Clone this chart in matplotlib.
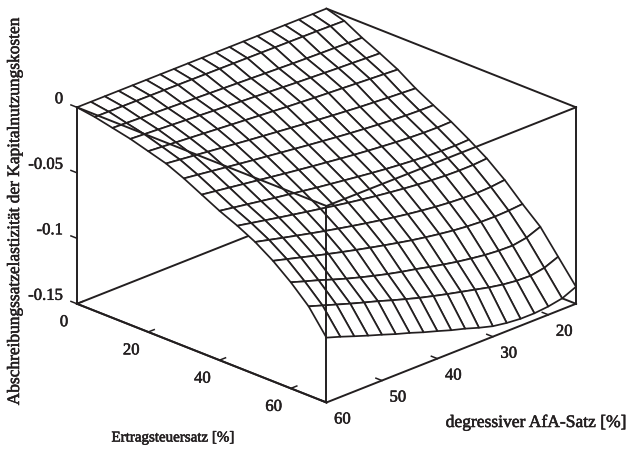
#coding: utf8

import numpy as np
import matplotlib
matplotlib.use('Agg')
from matplotlib import pyplot as plt
from matplotlib import patheffects

plt.rcParams['font.family'] = ['Liberation Serif', 'DejaVu Serif']

# Axes of the picture
tax_rate = [0, 5, 10, 15, 20, 25, 30, 35, 40, 45, 50, 55, 60, 65, 70]
afa_rate = [60, 57.5, 55, 52.5, 50, 47.5, 45, 42.5, 40, 37.5, 35, 32.5, 30,
            27.5, 25, 22.5, 20, 17.5, 15]

elasticity = [
    [0] * 19,
    [.0020, .0021, .0022, .0023, .0024, .0025, .0026, .0027, .0028, .0029, .0030, .0031, .0032, .0033, .0034, .0035, .0036, .0038, .0040],
    [.0050, .0054, .0058, .0062, .0066, .0070, .0074, .0078, .0082, .0086, .0090, .0094, .0098, .0102, .0105, .0108, .0110, .0113, .0115],
    [.0080, .0086, .0092, .0098, .0104, .0110, .0116, .0122, .0128, .0134, .0140, .0146, .0152, .0157, .0162, .0167, .0171, .0176, .0180],
    [.0120, .0128, .0136, .0144, .0152, .0160, .0168, .0176, .0184, .0192, .0200, .0207, .0214, .0220, .0226, .0232, .0238, .0244, .0250],
    [.0160, .0172, .0184, .0196, .0208, .0220, .0232, .0243, .0254, .0265, .0276, .0286, .0296, .0305, .0314, .0321, .0328, .0334, .0340],
    [.0220, .0234, .0248, .0262, .0276, .0290, .0303, .0316, .0329, .0342, .0354, .0366, .0377, .0387, .0396, .0404, .0410, .0414, .0415],
    [.0290, .0305, .0320, .0335, .0350, .0365, .0380, .0394, .0408, .0421, .0434, .0446, .0457, .0467, .0476, .0483, .0488, .0490, .0487],
    [.0360, .0377, .0394, .0411, .0428, .0444, .0460, .0476, .0490, .0504, .0518, .0531, .0543, .0553, .0562, .0569, .0573, .0574, .0570],
    [.0420, .0441, .0462, .0483, .0503, .0523, .0542, .0561, .0579, .0596, .0612, .0626, .0639, .0650, .0659, .0666, .0669, .0668, .0660],
    [.0490, .0516, .0542, .0567, .0592, .0616, .0639, .0661, .0682, .0702, .0721, .0738, .0753, .0766, .0776, .0783, .0786, .0782, .0770],
    [.0580, .0609, .0638, .0667, .0695, .0722, .0748, .0773, .0797, .0820, .0842, .0861, .0878, .0893, .0904, .0911, .0913, .0909, .0900],
    [.0690, .0725, .0758, .0795, .0830, .0862, .0892, .0920, .0945, .0967, .0992, .1015, .1036, .1053, .1068, .1077, .1080, .1062, .1020],
    [.0820, .0855, .0890, .0925, .0958, .0990, .1025, .1058, .1090, .1118, .1145, .1170, .1195, .1220, .1240, .1253, .1257, .1238, .1195],
    [.1005, .1040, .1078, .1115, .1150, .1187, .1220, .1257, .1290, .1325, .1355, .1390, .1420, .1437, .1447, .1447, .1437, .1417, .1370],
]

tax_ticks = [0, 20, 40, 60]
afa_ticks = [20, 30, 40, 50, 60]
z_ticks = [0, -0.05, -0.1, -0.15]
z_ticklabels = ['0', '-0.05', '-0.1', '-0.15']

ink = '#231f20'
heavy = [patheffects.withStroke(linewidth=0.4, foreground=ink)]
x0, x1 = tax_rate[0], tax_rate[-1]
y0, y1 = afa_rate[0], afa_rate[-1]
z0, z1 = z_ticks[-1], z_ticks[0]

fig = plt.figure(figsize=(6.28, 4.5), dpi=100)
# Axes bigger than the figure so the 3d clip box doesn't cut the mesh
ax = fig.add_axes([(317 - 350) / 628, (450 - 215 - 350) / 450, 700 / 628, 700 / 450],
    projection='3d', proj_type='ortho', computed_zorder=False)
ax.patch.set_alpha(0)
ax.view_init(elev=23.3, azim=-45)
ax.set_box_aspect((354, 354, 214.6), zoom=0.753)
ax.set_xlim(x0, x1)
ax.set_ylim(y0, y1)
ax.set_zlim(z0, z1)
ax.grid(False)
for axis in (ax.xaxis, ax.yaxis, ax.zaxis):
    axis.set_pane_color((1, 1, 1, 0))
    axis.pane.set_edgecolor((1, 1, 1, 0))
    axis.line.set_color(ink)
    axis.line.set_linewidth(1.4)
    axis._axinfo['tick'].update({'color': ink,
        'linewidth': {True: 1.1, False: 0.5},
        'inward_factor': 0.0, 'outward_factor': 0.3})

# z axis goes on the left corner, not the right one
ax.zaxis._axinfo['juggled'] = (1, 0, 2)

ax.set_xticks(tax_ticks)
ax.set_yticks(afa_ticks)
ax.set_zticks(z_ticks)
ax.set_zticklabels(z_ticklabels)
ax.tick_params(labelsize=12, colors=ink, pad=0)
ax.tick_params(axis='x', pad=1.3)
ax.tick_params(axis='z', pad=-0.7)

for label in ax.xaxis.get_ticklabels():
    label.set_ha('right')
    label.set_path_effects(heavy)
for label in ax.yaxis.get_ticklabels():
    label.set_ha('left')
    label.set_path_effects(heavy)
for label in ax.zaxis.get_ticklabels():
    label.set_ha('right')
    label.set_va('bottom')
    label.set_path_effects(heavy)

X, Y = np.meshgrid(tax_rate, afa_rate, indexing='ij')
Z = -np.array(elasticity)

box_args = {'color': ink, 'linewidth': 1.4}
# Hidden by the mesh where they cross it
ax.plot([x0, x0], [y1, y0], [z0, z0], zorder=1, **box_args)
ax.plot([x1, x0], [y1, y1], [z0, z0], zorder=1, **box_args)
ax.plot([x1, x1], [y1, y1], [z0, z1], zorder=1, **box_args)
ax.plot([x1, x0], [y1, y1], [z1, z1], zorder=1, **box_args)
ax.plot([x0, x0], [y0, y0], [z0, z1], zorder=1, **box_args)

ax.plot_surface(X, Y, Z, rstride=1, cstride=1, color='white', shade=False,
    edgecolor=ink, linewidth=1.25, antialiased=True, zorder=2)

# Front edges are drawn over the mesh
ax.plot([x0, x1], [y0, y0], [z1, z1], zorder=3, **box_args)
ax.plot([x1, x1], [y0, y1], [z1, z1], zorder=3, **box_args)
ax.plot([x1, x1], [y0, y0], [z0, z1], zorder=3, **box_args)

fig.text(15 / 628, 1 - 211 / 450, 'Abschreibungssatzelastizität der Kapitalnutzungskosten',
    rotation=90, ha='center', va='center', fontsize=12.5, color=ink, path_effects=heavy)
fig.text(173 / 628, 1 - 438 / 450, 'Ertragsteuersatz [%]', ha='center',
    va='center', fontsize=10.8, color=ink, path_effects=heavy)
fig.text(536 / 628, 1 - 423 / 450, 'degressiver AfA-Satz [%]', ha='center',
    va='center', fontsize=12.6, color=ink, path_effects=heavy)

fig.savefig('out.png', dpi=100, facecolor='white')
